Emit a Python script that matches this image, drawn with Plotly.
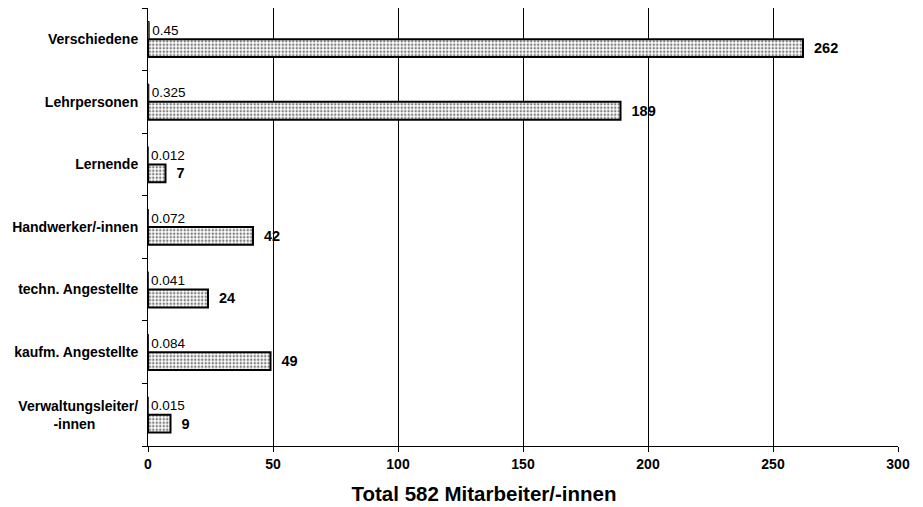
import plotly.graph_objects as go

categories = ["Verwaltungsleiter/<br>-innen\u00a0\u00a0\u00a0\u00a0\u00a0\u00a0\u00a0\u00a0\u00a0\u00a0\u00a0",
              "kaufm. Angestellte", "techn. Angestellte", "Handwerker/-innen",
              "Lernende", "Lehrpersonen", "Verschiedene"]
counts = [9, 49, 24, 42, 7, 189, 262]
shares = [0.015, 0.084, 0.041, 0.072, 0.012, 0.325, 0.45]
share_labels = ["0.015", "0.084", "0.041", "0.072", "0.012", "0.325", "0.45"]
x_ticks = [0, 50, 100, 150, 200, 250, 300]

font = "Liberation Sans, Arial, sans-serif"
pattern = dict(shape=".", fgcolor="black", bgcolor="white", size=3.5, solidity=0.4)

fig = go.Figure()
fig.add_trace(go.Bar(
    y=categories, x=counts, orientation="h",
    marker=dict(color="white", line=dict(color="black", width=2), pattern=pattern),
    text=["\u00a0\u00a0" + str(c) for c in counts], textposition="outside",
    textfont=dict(family=font, size=14.5, color="black", weight="bold"),
    cliponaxis=False, showlegend=False, hoverinfo="skip"))
fig.add_trace(go.Bar(
    y=categories, x=shares, orientation="h",
    marker=dict(color="white", line=dict(color="black", width=1), pattern=pattern),
    text=share_labels, textposition="outside",
    textfont=dict(family=font, size=13.5, color="black"),
    cliponaxis=False, showlegend=False, hoverinfo="skip"))

fig.update_layout(
    width=915, height=499, barmode="group", bargap=0.43, bargroupgap=0,
    margin=dict(l=140, r=25, t=0, b=61),
    plot_bgcolor="white", paper_bgcolor="white",
    font=dict(family=font, color="black"),
    uniformtext=dict(mode=False),
    title=dict(text="Total 582 Mitarbeiter/-innen",
               font=dict(family=font, size=20.5, color="black", weight="bold"),
               xref="container", x=476 / 915, xanchor="center",
               yref="container", y=1 - 486 / 499, yanchor="middle"),
)
fig.update_xaxes(
    range=[0, 300], tickvals=x_ticks, showgrid=True, gridcolor="black", gridwidth=1,
    showline=True, linecolor="black", linewidth=1, ticks="outside", ticklen=5,
    tickcolor="black", zeroline=False, automargin=False,
    tickfont=dict(family=font, size=14, color="black", weight="bold"),
)
fig.update_yaxes(
    showline=True, linecolor="black", linewidth=1, ticks="outside", ticklen=5,
    tickcolor="black", tickson="boundaries", showgrid=False, automargin=False,
    tickfont=dict(family=font, size=14, color="black", weight="bold"),
    ticklabelstandoff=6,
)
fig.write_html("out.html")
